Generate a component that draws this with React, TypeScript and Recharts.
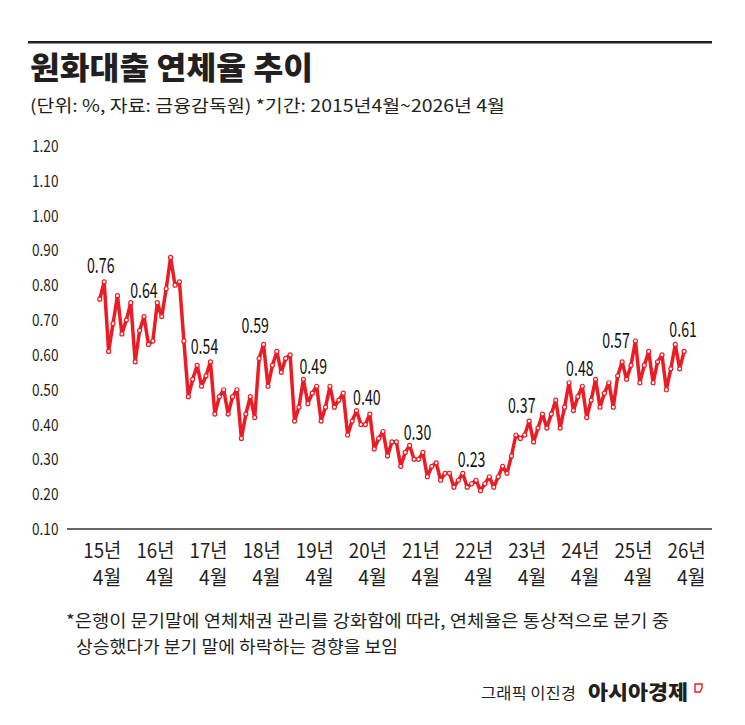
import React from 'react';
import { Line, LineChart, XAxis, YAxis } from 'recharts';

// 원화대출 연체율 (%), monthly, 2015.04 ~ 2026.04
const rates2015 = [0.76, 0.81, 0.61, 0.69, 0.77, 0.66, 0.7, 0.75, 0.58]; // Apr–Dec
const rates2016 = [0.67, 0.71, 0.63, 0.64, 0.75, 0.71, 0.79, 0.88, 0.8, 0.81, 0.64, 0.48];
const rates2017 = [0.53, 0.57, 0.51, 0.54, 0.58, 0.43, 0.48, 0.5, 0.43, 0.48, 0.5, 0.36];
const rates2018 = [0.43, 0.48, 0.42, 0.59, 0.63, 0.51, 0.57, 0.61, 0.55, 0.59, 0.6, 0.41];
const rates2019 = [0.45, 0.53, 0.46, 0.49, 0.51, 0.41, 0.45, 0.51, 0.45, 0.47, 0.49, 0.37];
const rates2020 = [0.41, 0.44, 0.4, 0.4, 0.43, 0.33, 0.36, 0.38, 0.31, 0.35, 0.35, 0.28];
const rates2021 = [0.32, 0.34, 0.3, 0.3, 0.32, 0.25, 0.28, 0.29, 0.24, 0.26, 0.26, 0.22];
const rates2022 = [0.24, 0.26, 0.22, 0.23, 0.24, 0.21, 0.23, 0.25, 0.22, 0.25, 0.28, 0.26];
const rates2023 = [0.31, 0.37, 0.36, 0.37, 0.41, 0.35, 0.39, 0.43, 0.39, 0.43, 0.47, 0.39];
const rates2024 = [0.45, 0.52, 0.44, 0.48, 0.51, 0.42, 0.47, 0.53, 0.45, 0.49, 0.52, 0.45];
const rates2025 = [0.54, 0.58, 0.53, 0.57, 0.64, 0.52, 0.57, 0.61, 0.52, 0.58, 0.6, 0.5];
const rates2026 = [0.56, 0.63, 0.56, 0.61]; // Jan–Apr

const yearLabels = ['15년', '16년', '17년', '18년', '19년', '20년', '21년', '22년', '23년', '24년', '25년', '26년'];
const monthLabel = '4월';
const yTicks = [0.1, 0.2, 0.3, 0.4, 0.5, 0.6, 0.7, 0.8, 0.9, 1.0, 1.1, 1.2];

// value labels sit on every April point; [dx, dy] nudges so they clear the line
const labelNudges = [
  [1, -26], [-9, -43], [-1.5, -22], [-4, -25], [1, -19], [1.5, -20],
  [-1, -19], [0, -17], [-3, -22], [2, -21], [-15, -17], [-1, -14],
];

const RED = '#ec1c24';
const INK = '#231f20';
const FONT = '"Noto Sans CJK KR", "Noto Sans", sans-serif';

const allRates = [
  ...rates2015, ...rates2016, ...rates2017, ...rates2018, ...rates2019, ...rates2020,
  ...rates2021, ...rates2022, ...rates2023, ...rates2024, ...rates2025, ...rates2026,
];
const data = allRates.map((rate, idx) => ({ idx, rate }));
const aprilTicks = yearLabels.map((_, i) => i * 12);

const YTick = (props: any) => {
  const { x, y, payload } = props;
  return (
    <text
      x={x}
      y={y + 6}
      textAnchor='end'
      fontFamily={FONT}
      fontSize={16.5}
      fill={INK}
      textLength={26.5}
      lengthAdjust='spacingAndGlyphs'
    >
      {payload.value.toFixed(2)}
    </text>
  );
};

const XTick = (props: any) => {
  const { x, y, payload } = props;
  const i = Math.round(payload.value / 12);
  return (
    <g>
      <text
        x={x + 21.5}
        y={y + 29}
        textAnchor='end'
        fontFamily={FONT}
        fontSize={20}
        fill={INK}
        textLength={38}
        lengthAdjust='spacingAndGlyphs'
      >
        {yearLabels[i]}
      </text>
      <text
        x={x + 21.5}
        y={y + 56}
        textAnchor='end'
        fontFamily={FONT}
        fontSize={20}
        fill={INK}
        textLength={28.5}
        lengthAdjust='spacingAndGlyphs'
      >
        {monthLabel}
      </text>
    </g>
  );
};

const RateDot = (props: any) => {
  const { cx, cy, index, payload } = props;
  const isApril = index % 12 === 0;
  const nudge = labelNudges[index / 12];
  return (
    <g key={`dot-${index}`}>
      <circle cx={cx} cy={cy} r={2} fill='#fff' stroke={RED} strokeWidth={1.2} />
      {isApril && nudge && (
        <text
          x={cx + nudge[0]}
          y={cy + nudge[1]}
          textAnchor='middle'
          fontFamily={FONT}
          fontSize={21}
          fill='#111'
          textLength={27.5}
          lengthAdjust='spacingAndGlyphs'
        >
          {payload.rate.toFixed(2)}
        </text>
      )}
    </g>
  );
};

const App = () => {
  return (
    <div
      style={{
        position: 'absolute',
        left: 0,
        top: 0,
        width: 745,
        height: 725,
        background: '#fff',
        overflow: 'hidden',
      }}
    >
      <svg
        width={745}
        height={725}
        style={{ position: 'absolute', left: 0, top: 0 }}
        fontFamily={FONT}
        fill={INK}
      >
        <rect x={28} y={41} width={684} height={2.5} fill={INK} />
        <text x={30} y={79} fontSize={31} fontWeight={900} textLength={283} lengthAdjust='spacingAndGlyphs'>
          원화대출 연체율 추이
        </text>
        <text x={30} y={112} fontSize={17} textLength={475} lengthAdjust='spacingAndGlyphs'>
          (단위: %, 자료: 금융감독원) *기간: 2015년4월~2026년 4월
        </text>
        <text x={66} y={627} fontSize={17} textLength={603} lengthAdjust='spacingAndGlyphs'>
          *은행이 문기말에 연체채권 관리를 강화함에 따라, 연체율은 통상적으로 분기 중
        </text>
        <text x={76} y={653} fontSize={17} textLength={322} lengthAdjust='spacingAndGlyphs'>
          상승했다가 분기 말에 하락하는 경향을 보임
        </text>
        <text x={481} y={699} fontSize={16} textLength={95} lengthAdjust='spacingAndGlyphs'>
          그래픽 이진경
        </text>
        <text x={588} y={700} fontSize={20} fontWeight={900} textLength={100} lengthAdjust='spacingAndGlyphs'>
          아시아경제
        </text>
        <path d='M695 684 h7 v4 l-2 4 h-5 z' fill='none' stroke={RED} strokeWidth={1.4} />
      </svg>

      <div style={{ position: 'absolute', left: 0, top: 0 }}>
        <LineChart
          width={745}
          height={725}
          data={data}
          margin={{ top: 146, right: 33, left: 0, bottom: 0 }}
        >
          <XAxis
            dataKey='idx'
            type='number'
            domain={[-7.4, 138.3]}
            ticks={aprilTicks}
            interval={0}
            height={196}
            tickLine={false}
            tickSize={0}
            tickMargin={0}
            axisLine={{ stroke: '#333', strokeWidth: 1.5 }}
            tick={<XTick />}
          />
          <YAxis
            type='number'
            domain={[0.1, 1.2]}
            ticks={yTicks}
            interval={0}
            width={67}
            axisLine={false}
            tickLine={false}
            tickSize={6}
            tickMargin={2.5}
            tick={<YTick />}
          />
          <Line
            dataKey='rate'
            type='linear'
            stroke={RED}
            strokeWidth={3.5}
            strokeLinejoin='round'
            dot={<RateDot />}
            activeDot={false}
            isAnimationActive={false}
          />
        </LineChart>
      </div>
    </div>
  );
};

export default App;
